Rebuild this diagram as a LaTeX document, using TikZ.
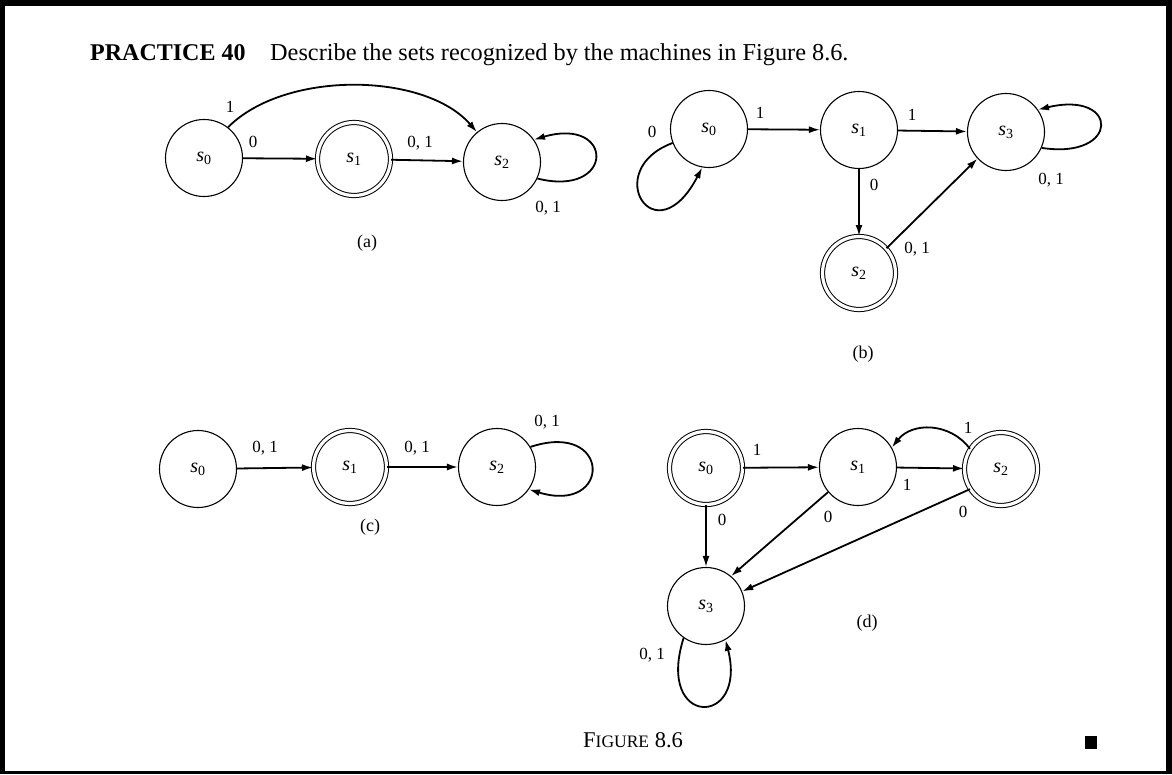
\documentclass[tikz,border=0pt]{standalone}
\usepackage{fontspec}
\setmainfont{Liberation Serif}
\usetikzlibrary{arrows.meta}
\newcommand\stt[1]{\textit{s}\textsubscript{#1}}
\begin{document}
\begin{tikzpicture}[x=1pt,y=1pt,
  state/.style={circle,draw,line width=1.1pt,minimum size=77pt,inner sep=0pt,
    font=\fontsize{20}{20}\selectfont},
  accept/.style={state,double,double distance=3.2pt,line width=1pt,minimum size=73pt},
  tr/.style={line width=1.8pt,-{Latex[length=11pt,width=7pt]}},
  lbl/.style={font=\fontsize{17}{17}\selectfont,inner sep=0pt},
  subcap/.style={font=\fontsize{18}{18}\selectfont,inner sep=0pt}]
% page frame
\useasboundingbox (0,0) rectangle (1172,-774);
\fill (0,0) rectangle (1172,-6);
\fill (0,0) rectangle (5,-774);
\fill (1166,0) rectangle (1172,-774);
\fill (0,-771) rectangle (1172,-774);

% heading
\node[anchor=base west,inner sep=0pt,font=\fontsize{24}{24}\selectfont\bfseries]
  (head) at (90,-60) {PRACTICE 40};
\node[anchor=base west,inner sep=0pt,font=\fontsize{24.3}{24.3}\selectfont]
  (task) at (270,-60) {Describe the sets recognized by the machines in Figure 8.6.};

% (a)
\node[state]  (a0) at (204,-158) {\stt0};
\node[accept] (a1) at (354,-159) {\stt1};
\node[state]  (a2) at (502,-162) {\stt2};
\draw[tr] (a0) -- (a1);
\draw[tr] (a1) -- (a2);
\draw[tr] (a0.52) .. controls (285,-70) and (425,-72) .. (a2.130);
\draw[tr] (a2.-25) .. controls (615,-198) and (615,-116) .. (a2.35);
\node[lbl] (la1) at (230,-107) {1};
\node[lbl] (la2) at (253,-142) {0};
\node[lbl] (la3) at (420,-143) {0, 1};
\node[lbl] (la4) at (548,-208) {0, 1};
\node[subcap] (capa) at (367,-243) {(a)};

% (b)
\node[state]  (b0) at (709,-129) {\stt0};
\node[state]  (b1) at (859,-130) {\stt1};
\node[state]  (b3) at (1006,-132) {\stt3};
\node[accept] (b2) at (859,-273) {\stt2};
\draw[tr] (b0.201) .. controls (600,-170) and (655,-258) .. (b0.-100);
\draw[tr] (b0) -- (b1);
\draw[tr] (b1) -- (b3);
\draw[tr] (b1) -- (b2);
\draw[tr] (b2.42) -- (b3.223);
\draw[tr] (b3.-24) .. controls (1120,-160) and (1120,-90) .. (b3.35);
\node[lbl] (lb1) at (652,-132) {0};
\node[lbl] (lb2) at (760,-113) {1};
\node[lbl] (lb3) at (912,-115) {1};
\node[lbl] (lb4) at (874,-185) {0};
\node[lbl] (lb5) at (917,-249) {0, 1};
\node[lbl] (lb6) at (1051,-180) {0, 1};
\node[subcap] (capb) at (863,-354) {(b)};

% (c)
\node[state]  (c0) at (198,-469) {\stt0};
\node[accept] (c1) at (350,-467) {\stt1};
\node[state]  (c2) at (497,-467) {\stt2};
\draw[tr] (c0) -- (c1);
\draw[tr] (c1) -- (c2);
\draw[tr] (c2.31) .. controls (612,-420) and (612,-515) .. (c2.-35);
\node[lbl] (lc1) at (265,-448) {0, 1};
\node[lbl] (lc2) at (417,-448) {0, 1};
\node[lbl] (lc3) at (547,-422) {0, 1};
\node[subcap] (capc) at (370,-527) {(c)};

% (d)
\node[accept] (d0) at (706,-468) {\stt0};
\node[state]  (d1) at (858,-467) {\stt1};
\node[accept] (d2) at (1001,-469) {\stt2};
\node[state]  (d3) at (706,-606) {\stt3};
\draw[tr] (d0) -- (d1);
\draw[tr] (d1) -- (d2);
\draw[tr] (d2.147) .. controls (950,-422) and (912,-422) .. (d1.30);
\draw[tr] (d0) -- (d3);
\draw[tr] (d1.220) -- (d3.50);
\draw[tr] (d2.213) -- (d3.22);
\draw[tr] (d3.235) .. controls (655,-728) and (748,-728) .. (d3.-60);
\node[lbl] (ld1) at (757,-450) {1};
\node[lbl] (ld2) at (907,-485) {1};
\node[lbl] (ld3) at (968,-428) {1};
\node[lbl] (ld4) at (722,-520) {0};
\node[lbl] (ld5) at (828,-517) {0};
\node[lbl] (ld6) at (963,-512) {0};
\node[lbl] (ld7) at (652,-655) {0, 1};
\node[subcap] (capd) at (867,-623) {(d)};

% figure caption and end mark
\node[anchor=base west,inner sep=0pt] (fig) at (583,-747)
  {\fontsize{22.5}{22.5}\selectfont F\fontsize{17.5}{17.5}\selectfont IGURE\fontsize{22.5}{22.5}\selectfont\ 8.6};
\node[fill,inner sep=0pt,minimum width=12pt,minimum height=13pt] (qed) at (1091,-742) {};
\end{tikzpicture}
\end{document}
